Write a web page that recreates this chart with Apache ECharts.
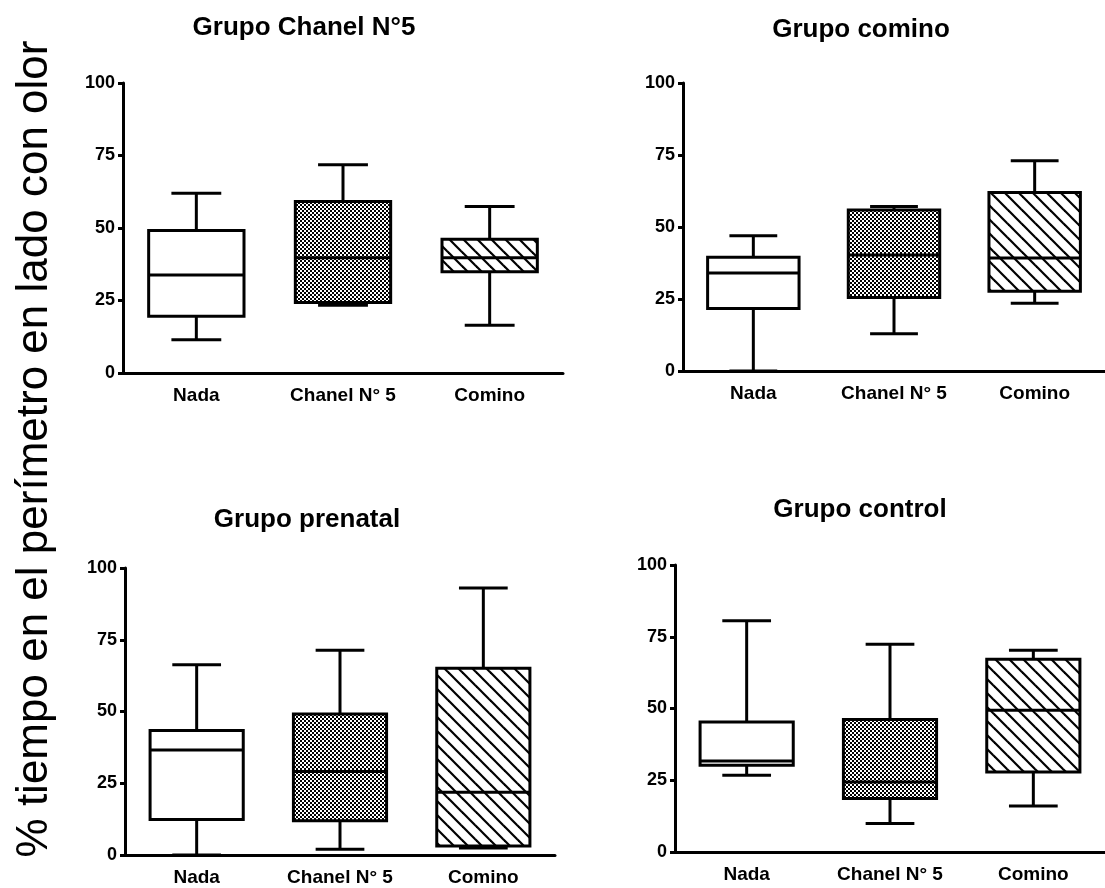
<!DOCTYPE html>
<html>
<head>
<meta charset="utf-8">
<script src="https://cdn.jsdelivr.net/npm/echarts@6/dist/echarts.min.js"></script>
<style>
  html, body { margin: 0; padding: 0; background: #fff; }
  #container { width: 1105px; height: 888px; }
</style>
</head>
<body>
<div id="container"></div>
<script>
const categories = ['Nada', 'Chanel N° 5', 'Comino'];
const titles = ['Grupo Chanel N°5', 'Grupo comino', 'Grupo prenatal', 'Grupo control'];
const yTicks = [0, 25, 50, 75, 100];
const yTitle = '% tiempo en el perímetro en lado con olor';

// each row: [min, Q1, median, Q3, max]
const grupoChanel = [
    [11.5, 19.6, 33.8, 49.1, 62.0],
    [23.4, 24.3, 39.7, 59.1, 71.8],
    [16.5, 34.9, 39.7, 46.1, 57.4]
];
const grupoComino = [
    [0, 21.7, 34.0, 39.5, 47.0],
    [12.9, 25.5, 40.3, 55.9, 57.1],
    [23.5, 27.7, 39.2, 62.0, 73.0]
];
const grupoPrenatal = [
    [0, 12.4, 36.6, 43.4, 66.3],
    [2.0, 11.9, 29.1, 49.1, 71.3],
    [2.4, 3.1, 21.9, 65.1, 93.0]
];
const grupoControl = [
    [26.7, 30.2, 31.7, 45.3, 80.6],
    [9.9, 18.6, 24.4, 46.2, 72.4],
    [16.0, 27.9, 49.4, 67.2, 70.3]
];
const groups = [grupoChanel, grupoComino, grupoPrenatal, grupoControl];

function draw_boxes() {
    let dom = document.getElementById("container");
    let myChart = echarts.init(dom, null, {renderer: 'canvas'});

    // fill patterns: plain, checkered, diagonal hatch
    let checker = document.createElement('canvas');
    checker.width = 4; checker.height = 4;
    let c1 = checker.getContext('2d');
    c1.fillStyle = '#fff'; c1.fillRect(0, 0, 4, 4);
    c1.fillStyle = '#000'; c1.fillRect(0, 0, 2, 2); c1.fillRect(2, 2, 2, 2);

    let hatch = document.createElement('canvas');
    let hs = 14;
    hatch.width = hs; hatch.height = hs;
    let c2 = hatch.getContext('2d');
    c2.fillStyle = '#fff'; c2.fillRect(0, 0, hs, hs);
    c2.strokeStyle = '#000'; c2.lineWidth = 2.2;
    for (let k = -1; k <= 1; k++) {
        c2.beginPath();
        c2.moveTo(k * hs - 2, -2);
        c2.lineTo(k * hs + hs + 2, hs + 2);
        c2.stroke();
    }

    const fills = ['#fff', {image: checker, repeat: 'repeat'}, {image: hatch, repeat: 'repeat'}];

    // panel placement
    const grids = [
        {left: 123, top: 83, width: 440, height: 290},
        {left: 683, top: 83, width: 430, height: 288},
        {left: 125, top: 568, width: 430, height: 287},
        {left: 675, top: 565, width: 430, height: 287}
    ];
    const titlePos = [[304, 28], [861, 30], [307, 520], [860, 510]];

    function renderBox(params, api) {
        let idx = api.value(0);
        let pMin = api.coord([idx, api.value(1)]);
        let pQ1 = api.coord([idx, api.value(2)]);
        let pMed = api.coord([idx, api.value(3)]);
        let pQ3 = api.coord([idx, api.value(4)]);
        let pMax = api.coord([idx, api.value(5)]);
        let band = api.size([1, 0])[0];
        let half = band * 0.325;
        let cap = band * 0.17;
        let cx = pMed[0];
        let ln = {stroke: '#000', lineWidth: 3};
        return {
            type: 'group',
            children: [
                {type: 'line', shape: {x1: cx, y1: pMax[1], x2: cx, y2: pQ3[1]}, style: ln},
                {type: 'line', shape: {x1: cx, y1: pQ1[1], x2: cx, y2: pMin[1]}, style: ln},
                {type: 'line', shape: {x1: cx - cap, y1: pMax[1], x2: cx + cap, y2: pMax[1]}, style: ln},
                {type: 'line', shape: {x1: cx - cap, y1: pMin[1], x2: cx + cap, y2: pMin[1]}, style: ln},
                {type: 'rect', shape: {x: cx - half, y: pQ3[1], width: half * 2, height: pQ1[1] - pQ3[1]},
                    style: {fill: fills[idx], stroke: '#000', lineWidth: 3}},
                {type: 'line', shape: {x1: cx - half, y1: pMed[1], x2: cx + half, y2: pMed[1]}, style: ln}
            ]
        };
    }

    let xAxes = [], yAxes = [], series = [], graphics = [];
    groups.forEach(function (g, i) {
        xAxes.push({
            gridIndex: i,
            type: 'category',
            data: categories,
            axisLine: {lineStyle: {color: '#000', width: 3}},
            axisTick: {alignWithLabel: true, length: 10, lineStyle: {color: '#000', width: 3}},
            axisLabel: {color: '#000', fontSize: 19, fontWeight: 'bold', fontFamily: 'Liberation Sans', margin: 13},
            splitLine: {show: false}
        });
        yAxes.push({
            gridIndex: i,
            type: 'value',
            min: yTicks[0],
            max: yTicks[yTicks.length - 1],
            interval: yTicks[1] - yTicks[0],
            axisLine: {show: true, lineStyle: {color: '#000', width: 3}},
            axisTick: {show: true, length: 5, lineStyle: {color: '#000', width: 3}},
            axisLabel: {color: '#000', fontSize: 18, fontWeight: 'bold', fontFamily: 'Liberation Sans', margin: 8},
            splitLine: {show: false}
        });
        series.push({
            type: 'custom',
            xAxisIndex: i,
            yAxisIndex: i,
            renderItem: renderBox,
            encode: {x: 0, y: [1, 2, 3, 4, 5]},
            data: g.map(function (row, k) { return [k].concat(row); }),
            z: 5
        });
        graphics.push({
            type: 'text',
            x: titlePos[i][0],
            y: titlePos[i][1],
            style: {
                text: titles[i],
                font: 'bold 26px "Liberation Sans"',
                fill: '#000',
                textAlign: 'center',
                textVerticalAlign: 'middle'
            }
        });
    });

    graphics.push({
        type: 'text',
        x: 35,
        y: 449,
        rotation: Math.PI / 2,
        style: {
            text: yTitle,
            font: '44px "Liberation Sans"',
            fill: '#000',
            textAlign: 'center',
            textVerticalAlign: 'middle'
        }
    });

    let option = {
        animation: false,
        backgroundColor: '#fff',
        grid: grids,
        xAxis: xAxes,
        yAxis: yAxes,
        series: series,
        graphic: graphics
    };

    if (option && typeof option === "object") {
        myChart.setOption(option, true);
    }
}

draw_boxes();
</script>
</body>
</html>
